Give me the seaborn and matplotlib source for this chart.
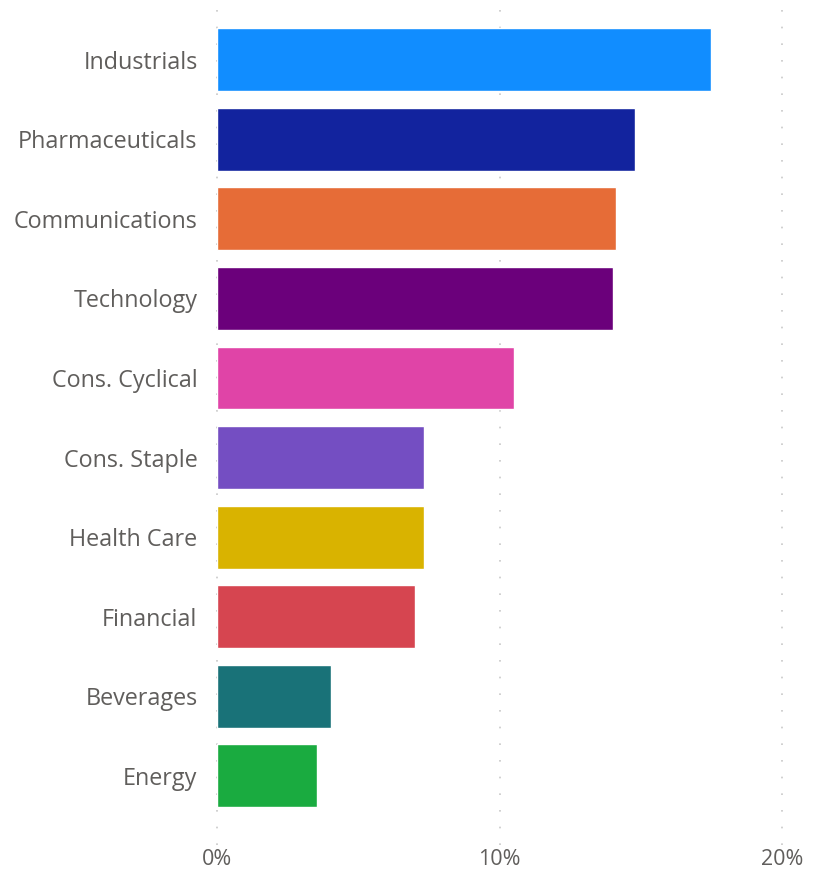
import matplotlib
matplotlib.use("Agg")
import matplotlib.pyplot as plt
import seaborn as sns
import pandas as pd
from matplotlib.ticker import FuncFormatter

sectors = ["Industrials", "Pharmaceuticals", "Communications", "Technology",
           "Cons. Cyclical", "Cons. Staple", "Health Care", "Financial",
           "Beverages", "Energy"]
weights = [17.5, 14.8, 14.12, 14.02, 10.51, 7.33, 7.33, 7.01, 4.04, 3.54]
colors = ["#118DFF", "#12239E", "#E66C37", "#6B007B", "#E044A7",
          "#744EC2", "#D9B300", "#D64550", "#197278", "#1AAB40"]
x_ticks = [0, 10, 20]

sns.set_style("white")
plt.rcParams['font.family'] = ['Open Sans', 'DejaVu Sans']

df = pd.DataFrame({"sector": sectors, "weight": weights})

fig = plt.figure(figsize=(8.26, 8.74), dpi=100)
ax = fig.add_axes([217/826, 1-845/874, (782-217)/826, (845-8)/874])

sns.barplot(data=df, y="sector", x="weight", hue="sector", palette=colors,
            order=sectors, hue_order=sectors, legend=False, width=0.79,
            saturation=1, ax=ax, zorder=3)

ax.set_xlim(0, 20)
ax.set_ylim(9.87, -0.65)
ax.set_xticks(x_ticks)
ax.xaxis.set_major_formatter(FuncFormatter(lambda v, p: f"{v:.0f}%"))
ax.set_xlabel("")
ax.set_ylabel("")
for s in ax.spines.values():
    s.set_visible(False)
for xv in x_ticks:
    ax.axvline(xv, color="#c8c8c8", lw=1.2, linestyle=(0, (1, 9)), zorder=1,
               ymin=0, ymax=1, clip_on=False)
ax.tick_params(axis="y", length=0, pad=14, labelsize=16.8, labelcolor="#605e5c")
ax.tick_params(axis="x", length=0, pad=3, labelsize=15.5, labelcolor="#605e5c")

fig.savefig("out.png", dpi=100)
